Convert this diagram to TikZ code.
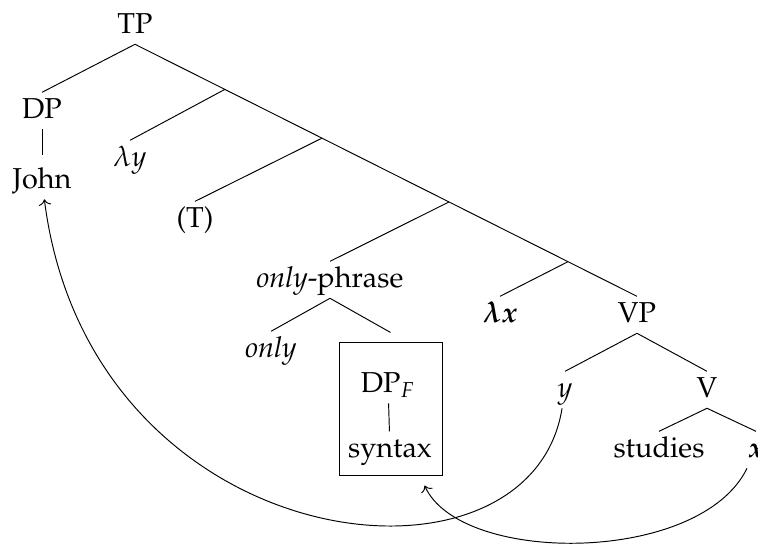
\documentclass[tikz,border=0pt]{standalone}
\usepackage[T1]{fontenc}
\usepackage{mathpazo}
\usepackage{amsmath,bm}
\usetikzlibrary{positioning,calc,arrows.meta}

\begin{document}
\begin{tikzpicture}[
		x=0.4167pt, y=-0.4167pt,
		font=\fontsize{12}{14}\selectfont,
		every node/.style={
			inner sep=2pt,
			text height=8.5pt,
			text depth=2.5pt,
			anchor=base
		}
		]
		\useasboundingbox (0,0) rectangle (758,546);
		
		\node (tp) at (135,33) {TP};
		\node (dp) at (42,118) {DP};
		\node (john) at (42,188) {John};
		\node (ly) at (130,166) {$\lambda y$};
		\node (t) at (195,227) {(T)};
		\node (op) at (330,287) {\emph{only}-phrase};
		\node (only) at (271,357) {\emph{only}};
		\node (box) [draw, anchor=center, minimum width=42.9pt, minimum height=55.8pt, outer sep=4pt] at (390.5,409) {};
		\node (dpf) at (388,392) {DP$_F$};
		\node (syn) at (390,457) {syntax};
		\node (lx) at (500,322) {$\bm{\lambda x}$};
		\node (vp) at (637,322) {VP};
		\node (y) at (565,397) {$y$};
		\node (v) at (707,397) {V};
		\node (st) at (659,457) {studies};
		\node (x) at (756,457) {$\bm{x}$};
		
		% junctions on the spine
		\coordinate (n1) at ($(tp.south)!0.179!(vp.north)$);
		\coordinate (n2) at ($(tp.south)!0.3725!(vp.north)$);
		\coordinate (n3) at ($(tp.south)!0.6255!(vp.north)$);
		\coordinate (n4) at ($(tp.south)!0.8625!(vp.north)$);
		
		\draw (tp.south)--(dp.north);
		\draw (tp.south)--(vp.north);
		\draw (n1)--(ly.north);
		\draw (n2)--(t.north);
		\draw (n3)--(op.north);
		\draw (n4)--(lx.north);
		\draw[shorten >=3pt] (dp)--(john);
		\draw (op.south)--(only.north);
		\draw (op.south)--(box.north);
		\draw (dpf)--(syn);
		\draw (vp.south)--(y.north);
		\draw (vp.south)--(v.north);
		\draw (v.south)--(st.north);
		\draw (v.south)--(x.north);
		
		\draw[->] (y) .. controls (530,610) and (90,560) .. (john);
		\draw[->] (x) .. controls (700,565) and (460,565) .. (box);
		
	\end{tikzpicture}
\end{document}
